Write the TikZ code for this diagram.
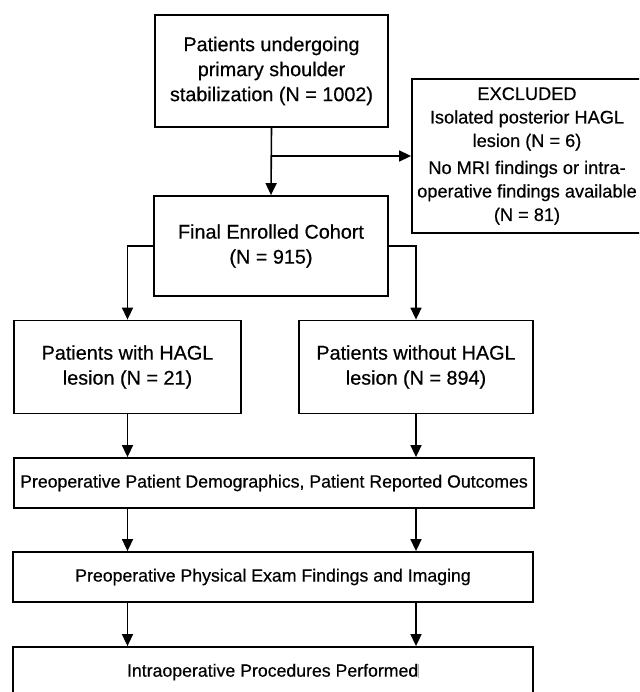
\documentclass[tikz,border=0pt]{standalone}
\usepackage{fontspec}
\setmainfont{Liberation Sans}[FakeBold=0.5]
\usetikzlibrary{arrows.meta,calc}

\begin{document}
\begin{tikzpicture}[x=1pt,y=-1pt,
    box/.style={draw, line width=1.8pt, inner sep=0pt, align=center},
    bigtxt/.style={font=\fontsize{19.8}{25}\selectfont},
    midtxt/.style={font=\fontsize{18.2}{23.5}\selectfont},
    smalltxt/.style={font=\fontsize{17.7}{22}\selectfont},
    arr/.style={line width=1.6pt, -{Triangle[length=12pt,width=11pt]}}]
    % Frame
    \useasboundingbox (0,0) rectangle (639,692);
    \clip (0,0) rectangle (639,692);

    % Boxes
    \node[box, bigtxt, minimum width=233pt, minimum height=112pt] (start) at (271.5,71)
        {Patients undergoing\\primary shoulder\\stabilization (N = 1002)};
    \node[box, midtxt, minimum width=230pt, minimum height=154pt] (excl) at (527,156)
        {EXCLUDED\\Isolated posterior HAGL\\lesion (N = 6)\\[3.5pt]
         No MRI findings or intra-\\operative findings available\\(N = 81)};
    \node[box, bigtxt, minimum width=234pt, minimum height=100pt] (cohort) at (271,246)
        {Final Enrolled Cohort\\(N = 915)};
    \node[box, bigtxt, minimum width=227pt, minimum height=93pt] (with) at (127.5,367)
        {Patients with HAGL\\lesion (N = 21)};
    \node[box, bigtxt, minimum width=234pt, minimum height=93pt] (without) at (416,367)
        {Patients without HAGL\\lesion (N = 894)};
    \node[box, smalltxt, minimum width=520pt, minimum height=50pt] (demo) at (274,483)
        {Preoperative Patient Demographics, Patient Reported Outcomes};
    \node[box, smalltxt, minimum width=520pt, minimum height=50pt] (phys) at (273,577)
        {Preoperative Physical Exam Findings and Imaging};
    \node[box, smalltxt, minimum width=520pt, minimum height=50pt] (intra) at (273,672)
        {Intraoperative Procedures Performed{\color{black!30}\rule[-1pt]{0.7pt}{14pt}}};

    % Arrows
    \draw[arr] (start.south) -- (cohort.north);
    \coordinate (split) at (start.south |- excl.west);
    \draw[arr] (split) -- (excl.west);
    \draw[arr] (cohort.west) -| (with.north);
    \draw[arr] (cohort.east) -| (without.north);
    \foreach \col in {with,without} {
        \draw[arr] (\col.south) -- (\col.south |- demo.north);
        \draw[arr] (\col.south |- demo.south) -- (\col.south |- phys.north);
        \draw[arr] (\col.south |- phys.south) -- (\col.south |- intra.north);
    }
\end{tikzpicture}
\end{document}
